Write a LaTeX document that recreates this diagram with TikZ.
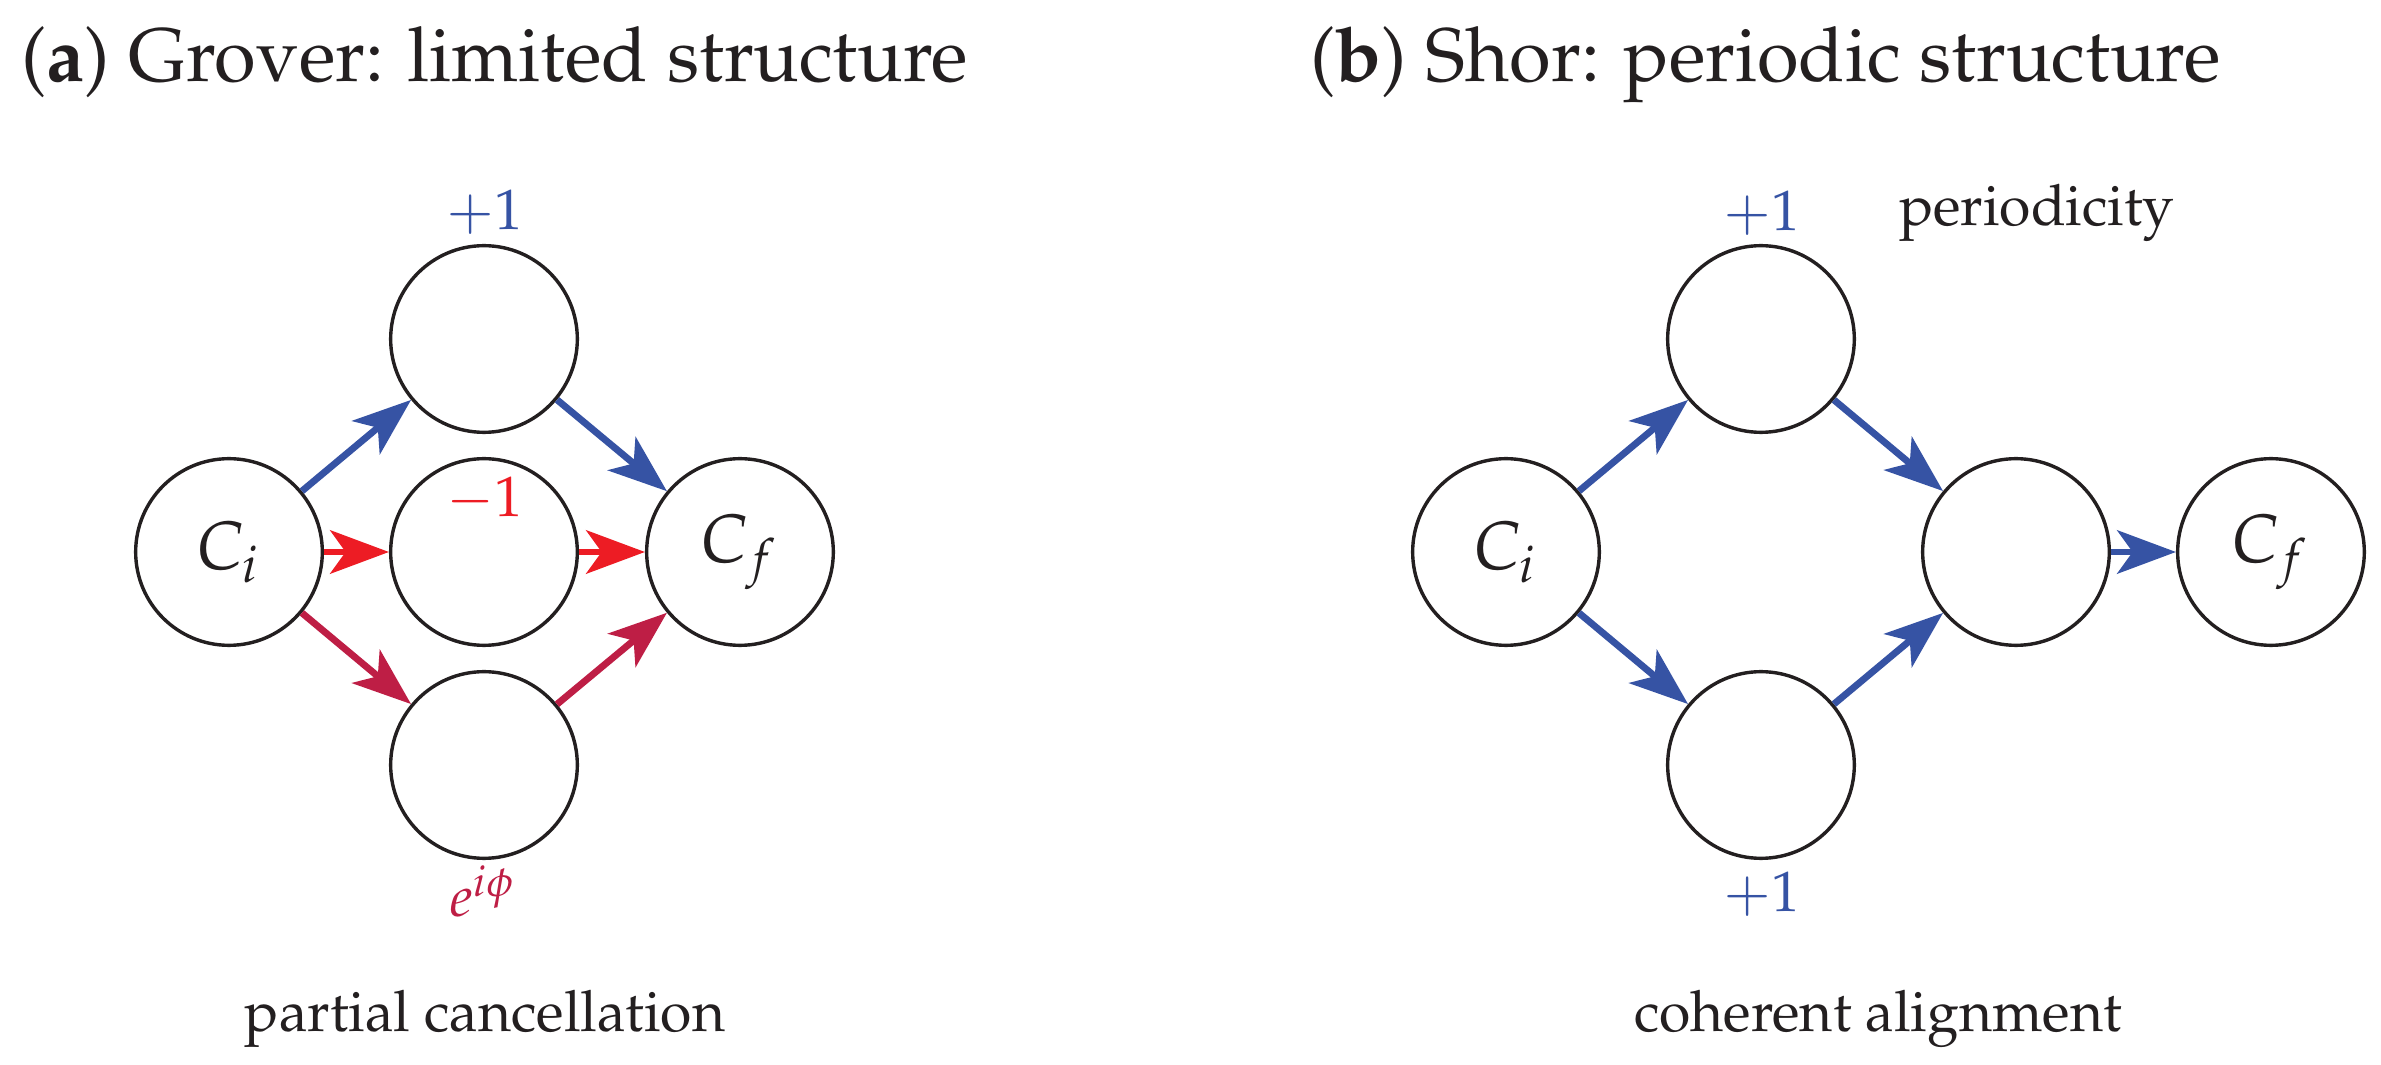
\documentclass[tikz,border=0pt]{standalone}
\usepackage[T1]{fontenc}
\usepackage{mathpazo}
\usetikzlibrary{arrows.meta}
\definecolor{ink}{HTML}{231F20}
\definecolor{cblue}{HTML}{3653A4}
\definecolor{cred}{HTML}{ED1C24}
\definecolor{ccrim}{HTML}{BE1E45}
\tikzset{
  st/.style={circle, draw=ink, line width=0.6pt, minimum size=32.75pt, inner sep=0pt,
    text=ink, font=\fontsize{12}{14}\selectfont},
  arr/.style={line width=1.2pt, -{Stealth[length=10.3pt,width=7.6pt,inset=2.7pt]}},
  lab/.style={anchor=base, font=\fontsize{10}{12}\selectfont, inner sep=0pt},
  ttl/.style={anchor=base west, font=\fontsize{13.3}{16}\selectfont, text=ink, inner sep=0pt}
}
\begin{document}
\begin{tikzpicture}[x=0.17544pt, y=-0.17544pt]
\useasboundingbox (0,0) rectangle (2381,1065);
% titles
\node[ttl] (ta) at (20,82) {(\textbf{a}) Grover: limited structure};
\node[ttl] (tb) at (1309,82) {(\textbf{b}) Shor: periodic structure};
% panel a
\node[st] (ciA) at (229,552) {$C_i$};
\node[st] (topA) at (484,339) {};
\node[st] (midA) at (484,552) {};
\node[st] (botA) at (484,765) {};
\node[st] (cfA) at (740,552) {$C_f$};
\node[lab, text=cblue] (pA) at (485,230) {$+1$};
\node[lab, text=cred] (mA) at (485,517) {$-1$};
\node[lab, text=ccrim] (eA) at (483,917) {$e^{i\phi}$};
\node[lab, text=ink] (capA) at (485,1032) {partial cancellation};
\draw[arr, cblue] (ciA) -- (topA);
\draw[arr, cblue] (topA) -- (cfA);
\draw[arr, cred] (ciA) -- (midA);
\draw[arr, cred] (midA) -- (cfA);
\draw[arr, ccrim] (ciA) -- (botA);
\draw[arr, ccrim] (botA) -- (cfA);
% panel b
\node[st] (ciB) at (1506,552) {$C_i$};
\node[st] (topB) at (1761,339) {};
\node[st] (botB) at (1761,765) {};
\node[st] (midB) at (2016,552) {};
\node[st] (cfB) at (2271,552) {$C_f$};
\node[lab, text=cblue] (pB1) at (1762,231) {$+1$};
\node[lab, text=cblue] (pB2) at (1762,912) {$+1$};
\node[lab, text=ink] (per) at (2037,226) {periodicity};
\node[lab, text=ink] (capB) at (1878,1032) {coherent alignment};
\draw[arr, cblue] (ciB) -- (topB);
\draw[arr, cblue] (ciB) -- (botB);
\draw[arr, cblue] (topB) -- (midB);
\draw[arr, cblue] (botB) -- (midB);
\draw[arr, cblue] (midB) -- (cfB);
\end{tikzpicture}
\end{document}
